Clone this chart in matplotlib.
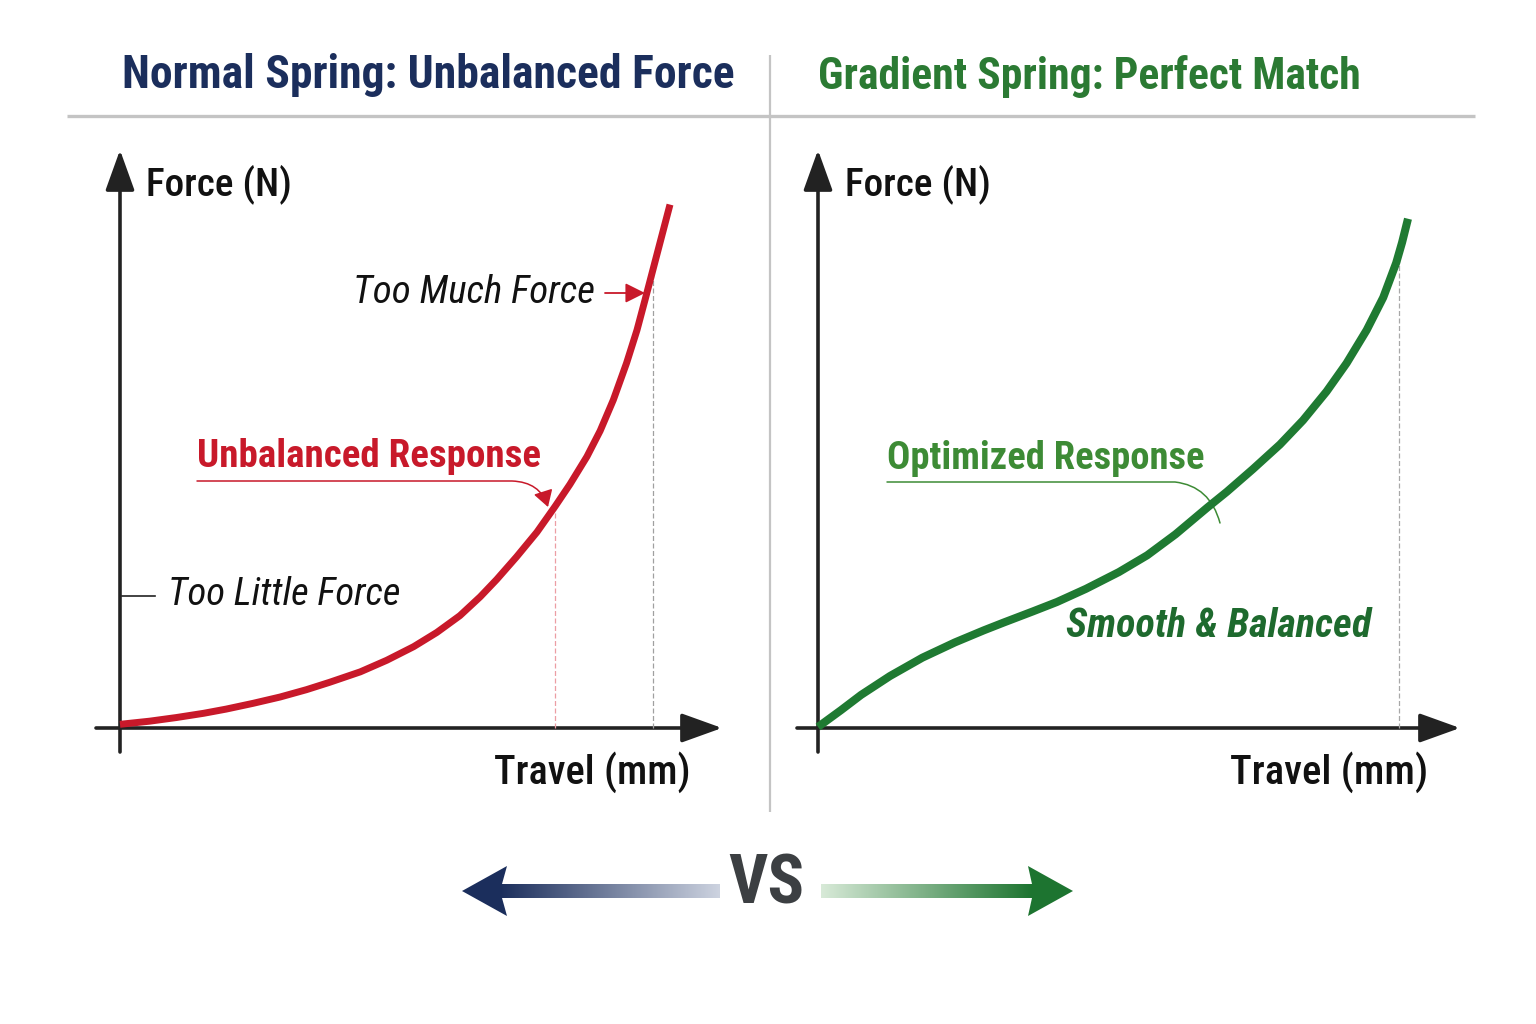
import numpy as np
import matplotlib
matplotlib.use("Agg")
import matplotlib.pyplot as plt
from matplotlib.patches import Polygon, FancyArrowPatch
from matplotlib.path import Path
from matplotlib.colors import LinearSegmentedColormap

# ---------------- data ----------------
travel_normal = [0.0, 0.54, 1.03, 1.52, 1.93, 2.42, 2.91, 3.39, 3.81, 4.37, 4.85,
                 5.34, 5.76, 6.18, 6.55, 6.85, 7.21, 7.58, 7.91, 8.18, 8.49, 8.73,
                 8.97, 9.21, 9.40, 9.55, 9.70, 9.85, 10.0]
force_normal = [0.07, 0.13, 0.20, 0.28, 0.36, 0.47, 0.59, 0.73, 0.87, 1.07, 1.29,
                1.55, 1.82, 2.14, 2.50, 2.83, 3.26, 3.73, 4.22, 4.64, 5.17, 5.66,
                6.25, 6.95, 7.58, 8.17, 8.77, 9.37, 9.97]

travel_gradient = [0.0, 0.39, 0.73, 1.22, 1.77, 2.32, 2.81, 3.15, 3.64, 4.05, 4.54,
                   5.10, 5.58, 6.06, 6.60, 6.93, 7.37, 7.83, 8.22, 8.62, 8.96, 9.30,
                   9.58, 9.80, 9.90, 10.0]
force_gradient = [0.02, 0.34, 0.63, 0.99, 1.34, 1.63, 1.86, 2.01, 2.22, 2.40, 2.65,
                  2.97, 3.29, 3.69, 4.20, 4.50, 4.93, 5.40, 5.86, 6.41, 6.95, 7.58,
                  8.20, 8.86, 9.25, 9.70]

normal_marks = [7.91, 9.69]      # dashed guide positions (travel)
gradient_marks = [9.85]

title_left = "Normal Spring: Unbalanced Force"
title_right = "Gradient Spring: Perfect Match"
y_label = "Force (N)"
x_label = "Travel (mm)"
note_much = "Too Much Force"
note_little = "Too Little Force"
note_unbal = "Unbalanced Response"
note_opt = "Optimized Response"
note_smooth = "Smooth & Balanced"
vs_text = "VS"

NAVY = "#1b2e5c"
GREEN_T = "#2b7a33"
RED = "#c8192a"
GREEN = "#1f7a32"
GREEN_L = "#3d8b35"
GREEN_S = "#1e6a2e"
AX = "#222222"

W, H = 1536, 1024
FONT = ["Roboto Condensed", "Roboto", "DejaVu Sans"]
plt.rcParams["font.family"] = FONT

fig = plt.figure(figsize=(W / 100, H / 100), dpi=100)
fig.patch.set_facecolor("white")

# overlay in pixel coordinates for decorations
bg = fig.add_axes([0, 0, 1, 1])
bg.set_xlim(0, W)
bg.set_ylim(H, 0)
bg.axis("off")

renderer = fig.canvas.get_renderer()


def fit_text(x, y, s, width, ha="left", va="baseline", **kw):
    t = fig.text(x / W, 1 - y / H, s, ha=ha, va=va, fontsize=20, **kw)
    for _ in range(4):
        bb = t.get_window_extent(renderer=renderer)
        t.set_fontsize(t.get_fontsize() * width / bb.width)
    return t


def make_panel(ox, oy, sx, sy, xlim, ylim):
    left = ox + xlim[0] * sx
    right = ox + xlim[1] * sx
    top = oy - ylim[1] * sy
    bottom = oy - ylim[0] * sy
    ax = fig.add_axes([left / W, 1 - bottom / H, (right - left) / W, (bottom - top) / H])
    ax.set_xlim(*xlim)
    ax.set_ylim(*ylim)
    ax.axis("off")
    ax.patch.set_alpha(0)
    return ax


def axis_arrows(ox, oy, x0, x1, y0, y1):
    kw = dict(arrowstyle="-|>,head_length=1.25,head_width=0.45", lw=2.6,
              color=AX, mutation_scale=20, shrinkA=0, shrinkB=0)
    bg.annotate("", xy=(ox, y1), xytext=(ox, y0), arrowprops=kw)
    bg.annotate("", xy=(x1, oy), xytext=(x0, oy), arrowprops=kw)


# ---------------- header ----------------
bg.plot([67, 1475], [116, 116], color="#c4c4c4", lw=2.4, solid_capstyle="butt")
bg.plot([770, 770], [55, 812], color="#c4c4c4", lw=1.6, solid_capstyle="butt")

fit_text(122, 88, title_left, 611, color=NAVY, fontweight="bold")
fit_text(818, 89, title_right, 544, color=GREEN_T, fontweight="bold")

# ---------------- left panel ----------------
oxL, oyL, sxL, syL = 120, 728, 55.0, 52.5
axL = make_panel(oxL, oyL, sxL, syL, (-1.0, 11.5), (-1.2, 11.2))
axis_arrows(oxL, oyL, 96, 722, 752, 150)

for xm, col in zip(normal_marks, ["#ec9ea4", "#a0a0a0"]):
    ym = np.interp(xm, travel_normal, force_normal)
    axL.plot([xm, xm], [0, ym], color=col, lw=0.9, ls=(0, (4, 2)), zorder=1)

axL.plot(travel_normal, force_normal, color=RED, lw=5.0, solid_capstyle="butt",
         solid_joinstyle="round", zorder=3)

fit_text(146, 195, y_label, 146, color="#111111", fontweight="medium")
fit_text(690, 784, x_label, 197, ha="right", color="#111111", fontweight="medium")

fit_text(353, 303, note_much, 242, color="#111111", style="italic")
bg.annotate("", xy=(645, 293), xytext=(605, 293),
            arrowprops=dict(arrowstyle="-|>,head_length=0.6,head_width=0.3", lw=1.3,
                            color=RED, mutation_scale=20, shrinkA=0, shrinkB=0))

fit_text(197, 467, note_unbal, 344, color=RED, fontweight="bold")
p_unbal = Path([(197, 481), (512, 481), (540, 482), (548, 507)],
               [Path.MOVETO, Path.LINETO, Path.CURVE3, Path.CURVE3])
bg.add_patch(FancyArrowPatch(path=p_unbal, arrowstyle="-|>,head_length=0.5,head_width=0.3",
                             mutation_scale=20, lw=1.1, color=RED))

fit_text(168, 605, note_little, 233, color="#111111", style="italic")
bg.plot([122, 155], [596, 596], color="#222222", lw=1.2)

# ---------------- right panel ----------------
oxR, oyR, sxR, syR = 818, 728, 59.0, 52.5
axR = make_panel(oxR, oyR, sxR, syR, (-0.6, 11.3), (-1.2, 11.2))
axis_arrows(oxR, oyR, 797, 1460, 752, 150)

for xm in gradient_marks:
    ym = np.interp(xm, travel_gradient, force_gradient)
    axR.plot([xm, xm], [0, ym], color="#a8a8a8", lw=0.9, ls=(0, (4, 2)), zorder=1)

axR.plot(travel_gradient, force_gradient, color=GREEN, lw=5.8, solid_capstyle="butt",
         solid_joinstyle="round", zorder=3)

fit_text(845, 195, y_label, 146, color="#111111", fontweight="medium")
fit_text(1428, 784, x_label, 198, ha="right", color="#111111", fontweight="medium")

fit_text(887, 469, note_opt, 317, color=GREEN_L, fontweight="bold")
p_opt = Path([(887, 482), (1175, 482), (1210, 486), (1220, 523)],
             [Path.MOVETO, Path.LINETO, Path.CURVE3, Path.CURVE3])
bg.add_patch(FancyArrowPatch(path=p_opt, arrowstyle="-", mutation_scale=20, lw=1.1,
                             color=GREEN_L, zorder=5))

fit_text(1066, 637, note_smooth, 304, color=GREEN_S, fontweight="bold", style="italic")

# ---------------- VS with gradient arrows ----------------
fit_text(766, 903, vs_text, 76, ha="center", color="#3c3f42", fontweight="bold")

yc, half = 891, 7
grad = np.linspace(0, 1, 256).reshape(1, -1)
cm_navy = LinearSegmentedColormap.from_list("n", [NAVY, "#cdd3e0"])
cm_green = LinearSegmentedColormap.from_list("g", ["#d8ead8", "#1d7430"])
bg.imshow(grad, cmap=cm_navy, extent=(500, 720, yc + half, yc - half), aspect="auto",
          interpolation="bilinear", zorder=2)
bg.add_patch(Polygon([(462, yc), (507, yc - 25), (502, yc - half), (502, yc + half),
                      (507, yc + 25)], closed=True, color=NAVY, lw=0, zorder=3))
bg.imshow(grad, cmap=cm_green, extent=(821, 1032, yc + half, yc - half), aspect="auto",
          interpolation="bilinear", zorder=2)
bg.add_patch(Polygon([(1073, yc), (1028, yc - 25), (1032, yc - half), (1032, yc + half),
                      (1028, yc + 25)], closed=True, color="#1d7430", lw=0, zorder=3))
bg.set_xlim(0, W)
bg.set_ylim(H, 0)

fig.savefig("out.png", dpi=100, facecolor="white")
